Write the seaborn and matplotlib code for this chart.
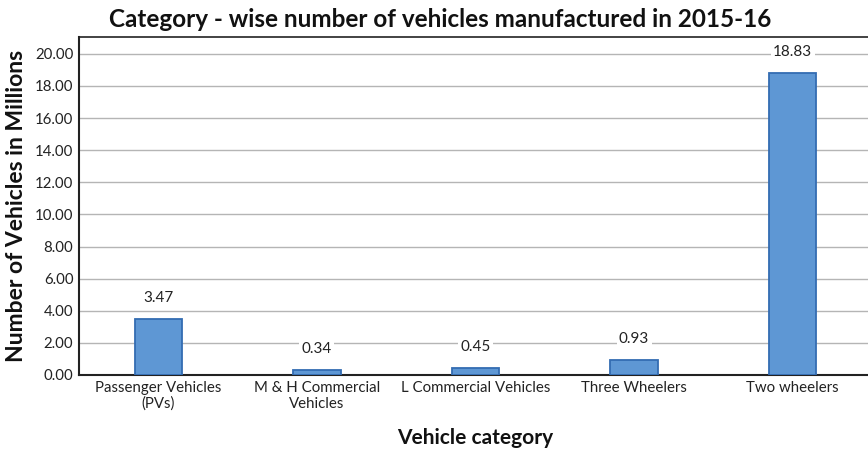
import matplotlib
matplotlib.use("Agg")
import matplotlib.pyplot as plt
import seaborn as sns
import pandas as pd

categories = ["Passenger Vehicles\n(PVs)", "M & H Commercial\nVehicles",
              "L Commercial Vehicles", "Three Wheelers", "Two wheelers"]
values = [3.47, 0.34, 0.45, 0.93, 18.83]
y_ticks = [0, 2, 4, 6, 8, 10, 12, 14, 16, 18, 20]

sns.set_theme(style="white")
plt.rcParams["font.family"] = ["Lato", "DejaVu Sans"]

df = pd.DataFrame({"category": categories, "value": values})

fig = plt.figure(figsize=(8.68, 4.55), dpi=100)
ax = fig.add_axes([79 / 868, 1 - 375 / 455, 793 / 868, 338 / 455])

sns.barplot(data=df, x="category", y="value", ax=ax, width=0.30,
            color="#5e97d4", edgecolor="#336cb2", linewidth=1.3,
            saturation=1, zorder=3)

ax.set_ylim(0, 21.05)
ax.set_xlim(-0.5, 4.5)
ax.set_yticks(y_ticks)
ax.set_yticklabels([f"{t:.2f}" for t in y_ticks], fontsize=10.8, color="#222222")
ax.tick_params(axis="x", labelsize=10.8, colors="#222222", pad=4, length=0)
ax.tick_params(axis="y", pad=4, length=0)
ax.grid(axis="y", color="#b5b5b5", linewidth=1.0, zorder=0)

for side in ["left", "bottom", "top"]:
    ax.spines[side].set_visible(True)
    ax.spines[side].set_color("#222222")
ax.spines["left"].set_linewidth(1.5)
ax.spines["bottom"].set_linewidth(1.5)
ax.spines["top"].set_linewidth(1.2)
ax.spines["right"].set_visible(False)

for i, v in enumerate(values):
    ax.annotate(f"{v:.2f}", (i, v), xytext=(0, 15), textcoords="offset points",
                ha="center", va="center", fontsize=11, color="#222222",
                bbox=dict(boxstyle="square,pad=0.15", fc="white", ec="none"),
                zorder=4)

ax.set_xlabel("Vehicle category", fontsize=15, fontweight="bold",
              color="#111111", labelpad=12)
ax.set_ylabel("Number of Vehicles in Millions", fontsize=16.5,
              fontweight="bold", color="#111111", labelpad=6)
fig.text(0.507, 0.958, "Category - wise number of vehicles manufactured in 2015-16",
         ha="center", va="center", fontsize=17.5, fontweight="bold", color="#111111")

fig.savefig("out.png", dpi=100)
